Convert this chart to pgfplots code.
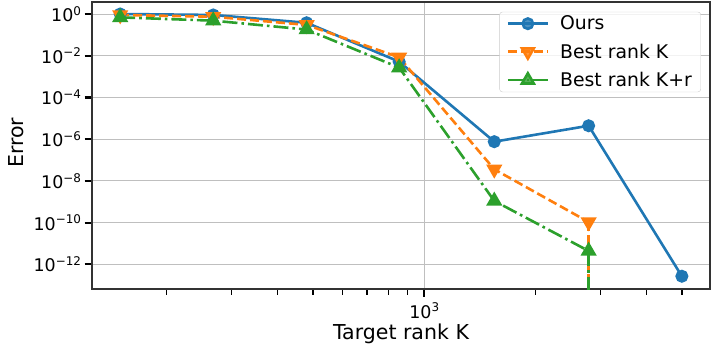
\documentclass[border=0pt]{standalone}
\usepackage{fontspec}
\setmainfont{DejaVu Sans}
\usepackage{pgfplots}
\pgfplotsset{compat=1.18}
\definecolor{tabblue}{HTML}{1F77B4}
\definecolor{taborange}{HTML}{FF7F0E}
\definecolor{tabgreen}{HTML}{2CA02C}
% matplotlib style power of ten
\newcommand{\tenp}[1]{10\raisebox{6.3bp}{\fontsize{12}{12}\selectfont #1}}

\begin{document}
\begin{tikzpicture}
\begin{axis}[
  scale only axis, width=618bp, height=287bp,
  xmode=log, ymode=log,
  xmin=125.8, xmax=5948, ymin=6.6e-14, ymax=3.76,
  xtick={1000}, xticklabels={\tenp{3}},
  minor xtick={200,300,400,500,600,700,800,900,2000,3000,4000,5000},
  ytick={1e-12,1e-10,1e-8,1e-6,1e-4,1e-2,1},
  yticklabels={\tenp{−12},\tenp{−10},\tenp{−8},\tenp{−6},\tenp{−4},\tenp{−2},\tenp{0}},
  minor ytick={},
  tick pos=left, tick align=outside,
  major tick length=7.5bp, minor tick length=5.5bp,
  major tick style={line width=2.2bp, black},
  minor tick style={line width=1.5bp, black},
  ticklabel style={font=\fontsize{17.5}{20}\selectfont},
  xticklabel style={yshift=-3bp},
  grid=major,
  major grid style={line width=0.9bp, color=black!25},
  axis line style={line width=1.1bp, black!80},
  xlabel={Target rank K}, ylabel={Error},
  label style={font=\fontsize{20.6}{24}\selectfont},
  xlabel style={at={(axis description cs:0.5,0)}, anchor=base, yshift=-50bp},
  ylabel style={at={(axis description cs:0,0.51)}, anchor=center, yshift=76bp},
  legend cell align=left,
  legend style={at={(rel axis cs:0.9854,0.966)}, anchor=north east,
    draw=black!20, rounded corners=3bp, fill=white, fill opacity=0.8, text opacity=1,
    font=\fontsize{18.9}{22}\selectfont, row sep=8.5bp, inner xsep=7bp,
    /tikz/every odd column/.append style={column sep=9bp}},
  legend image code/.code={
    \draw[mark repeat=2, mark phase=2, #1] plot coordinates {(0bp,0bp) (20bp,0bp) (40bp,0bp)};
  },
]
\addplot[tabblue, line width=2.6bp, mark=*, mark size=5.2bp] coordinates {
  (150,1.0) (268,0.9) (480,0.38) (855,5.2e-3) (1548,7.6e-7) (2789,4.4e-6) (4990,2.7e-13)
};
\addplot[taborange, line width=2.6bp, dash pattern=on 9bp off 4bp,
  mark=triangle*, mark size=6.8bp, mark options={solid, rotate=180}] coordinates {
  (150,0.9) (268,0.74) (480,0.3) (855,8.4e-3) (1548,3.6e-8) (2789,1.07e-10)
};
\addplot[tabgreen, line width=2.6bp, dash pattern=on 15bp off 4bp on 2.6bp off 4bp,
  mark=triangle*, mark size=6.8bp, mark options={solid}] coordinates {
  (150,0.69) (268,0.48) (480,0.18) (855,2.7e-3) (1548,1.1e-9) (2789,4.4e-12)
};
% zero error at the last rank: the curves drop out of the axis
\addplot[taborange, line width=2.6bp, dash pattern=on 9bp off 4bp, forget plot]
  coordinates {(2789,1.07e-10) (2789,1e-20)};
\addplot[tabgreen, line width=2.6bp, dash pattern=on 15bp off 4bp on 2.6bp off 4bp, forget plot]
  coordinates {(2789,4.4e-12) (2789,1e-20)};
\legend{Ours, Best rank K, Best rank K+r}
\end{axis}
\pgfresetboundingbox
\path[use as bounding box] (-92bp,-55bp) rectangle (626bp,289bp);
\end{tikzpicture}
\end{document}
